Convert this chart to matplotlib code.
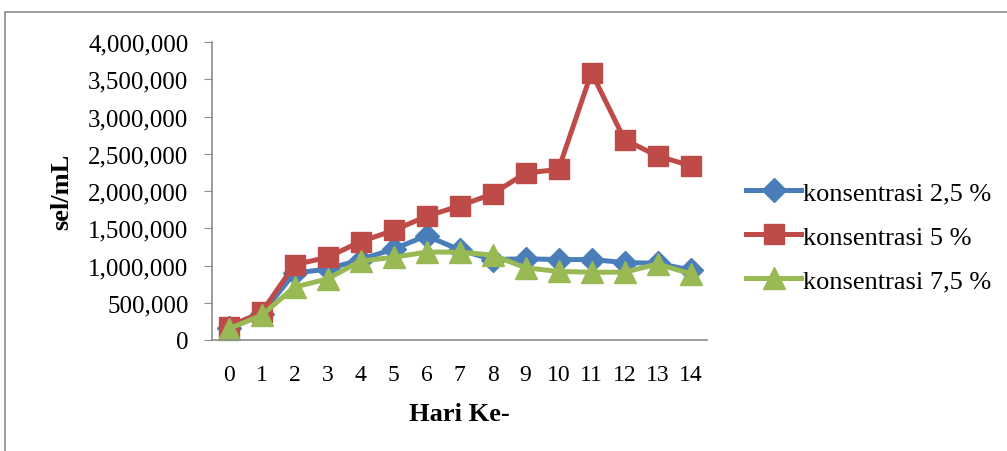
import matplotlib
matplotlib.use("Agg")
import matplotlib.pyplot as plt
from matplotlib.patches import Rectangle
from matplotlib.ticker import FuncFormatter

# cell density per day for each concentration
hari = list(range(15))
konsentrasi_2_5 = [160000, 350000, 900000, 950000, 1080000, 1220000, 1400000, 1210000,
                   1080000, 1090000, 1080000, 1080000, 1040000, 1030000, 940000]
konsentrasi_5 = [180000, 370000, 1010000, 1110000, 1320000, 1470000, 1660000, 1800000,
                 1960000, 2240000, 2290000, 3590000, 2690000, 2470000, 2340000]
konsentrasi_7_5 = [150000, 330000, 710000, 820000, 1060000, 1110000, 1180000, 1180000,
                   1140000, 970000, 920000, 910000, 910000, 1020000, 890000]

labels = ["konsentrasi 2,5 %", "konsentrasi 5 %", "konsentrasi 7,5 %"]
colors = ["#4A7EBB", "#BE4B48", "#98B954"]
markers = ["D", "s", "^"]
sizes = [12, 14, 16]

plt.rcParams["font.family"] = ["Liberation Serif", "DejaVu Serif"]

W, H = 1007, 452
fig = plt.figure(figsize=(W / 100, H / 100), dpi=100)
# chart area frame
fig.patches.append(Rectangle((5 / W, -0.1), 1.2, 1 - 13 / H + 0.1,
                             transform=fig.transFigure, fill=False,
                             edgecolor="#8c8c8c", linewidth=1.2))

ax = fig.add_axes([212 / W, 1 - 341 / H, 495 / W, 298 / H])

series = [konsentrasi_2_5, konsentrasi_5, konsentrasi_7_5]
for vals, lab, c, m, ms in zip(series, labels, colors, markers, sizes):
    ax.plot(hari, vals, color=c, marker=m, markersize=ms, linewidth=3.6,
            label=lab, clip_on=False)

ax.set_xlim(-0.5, 14.5)
ax.set_ylim(0, 4000000)
ax.set_yticks(range(0, 4000001, 500000))
ax.yaxis.set_major_formatter(FuncFormatter(lambda v, p: f"{int(v):,}"))
ax.set_xticks(hari)

for side in ("top", "right"):
    ax.spines[side].set_visible(False)
for side in ("left", "bottom"):
    ax.spines[side].set_color("#8c8c8c")
    ax.spines[side].set_linewidth(1.2)
ax.tick_params(axis="y", direction="out", length=6, color="#8c8c8c",
               labelsize=18, pad=11)
ax.tick_params(axis="x", length=0, labelsize=17, pad=17)

fig.text(62 / W, 1 - 192 / H, "sel/mL", rotation=90, fontsize=19,
         fontweight="bold", ha="center", va="center")
fig.text(459 / W, 1 - 415 / H, "Hari Ke-", fontsize=19,
         fontweight="bold", ha="center", va="center")

fig.legend(loc="upper left", bbox_to_anchor=(746 / W, 1 - 182 / H),
           frameon=False, fontsize=19, handlelength=2.1, handletextpad=0.05,
           labelspacing=0.78, borderaxespad=0, borderpad=0)

fig.savefig("out.png", dpi=100)
